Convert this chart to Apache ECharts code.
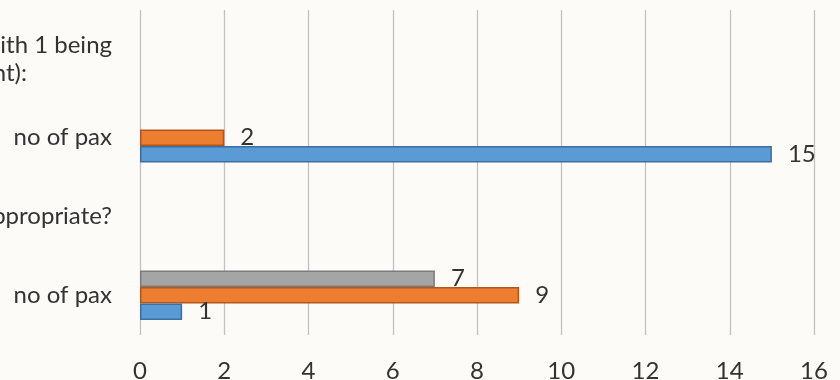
<!DOCTYPE html>
<html>
<head>
<meta charset="utf-8">
<script src="https://cdn.jsdelivr.net/npm/echarts@6/dist/echarts.min.js"></script>
<style>
  html, body { margin: 0; padding: 0; background: #fcfbf8; }
  #chart { width: 840px; height: 380px; }
</style>
</head>
<body>
<div id="chart"></div>
<script>
// categories from bottom to top (category axis runs upwards)
const categories = ['no of pax', 'Q2', 'no of pax', 'Q1']
const questionLabels = {
  Q1: '{a|Please rank the following (with 1 being}\n{b|the most important):}',
  Q2: 'Was the length of the session appropriate?'
}
const seriesNames = ['Series 1', 'Series 2', 'Series 3']
const blueValues = [1, null, 15, null]
const orangeValues = [9, null, 2, null]
const grayValues = [7, null, null, null]
const xTicks = [0, 2, 4, 6, 8, 10, 12, 14, 16]

const chart = echarts.init(document.getElementById('chart'))

const font = 'Lato'
const textColor = '#333333'

const barLabel = {
  show: true,
  position: 'right',
  distance: 16,
  color: textColor,
  fontFamily: font,
  fontSize: 24
}

const makeSeries = (name, data, fill, border) => ({
  name: name,
  type: 'bar',
  xAxisIndex: 0,
  yAxisIndex: 0,
  data: data,
  barWidth: 16.5,
  barGap: '0%',
  itemStyle: { color: fill, borderColor: border, borderWidth: 1.5 },
  label: barLabel,
  emphasis: { disabled: true }
})

const option = {
  backgroundColor: '#fcfbf8',
  animation: false,
  grid: [
    { left: 140, right: 26, top: 19.5, bottom: 45.5, containLabel: false, outerBoundsMode: 'none' },
    // taller grid only used for the vertical grid lines
    { left: 140, right: 26, top: 10, bottom: 45, containLabel: false, outerBoundsMode: 'none' }
  ],
  xAxis: [
    {
      type: 'value',
      gridIndex: 0,
      min: xTicks[0],
      max: xTicks[xTicks.length - 1],
      interval: 2,
      axisLine: { show: false },
      axisTick: { show: false },
      splitLine: { show: false },
      axisLabel: { color: textColor, fontFamily: font, fontSize: 24, margin: 25 }
    },
    {
      type: 'value',
      gridIndex: 1,
      min: xTicks[0],
      max: xTicks[xTicks.length - 1],
      interval: 2,
      axisLine: { show: false },
      axisTick: { show: false },
      axisLabel: { show: false },
      splitLine: { show: true, lineStyle: { color: '#c2c2c2', width: 1.3 } }
    }
  ],
  yAxis: [
    {
      type: 'category',
      gridIndex: 0,
      data: categories,
      axisLine: { show: false },
      axisTick: { show: false },
      axisLabel: {
        color: textColor,
        fontFamily: font,
        fontSize: 24,
        margin: 28,
        lineHeight: 28,
        formatter: (v) => questionLabels[v] || v,
        rich: {
          a: { color: textColor, fontFamily: font, fontSize: 24, lineHeight: 28 },
          b: { color: textColor, fontFamily: font, fontSize: 24, lineHeight: 28, padding: [0, 85, 0, 0] }
        }
      }
    },
    { type: 'value', gridIndex: 1, show: false, min: 0, max: 1 }
  ],
  // series placed top to bottom inside each group: gray, orange, blue
  series: [
    makeSeries(seriesNames[2], grayValues, '#a5a5a5', '#7c7c7c'),
    makeSeries(seriesNames[1], orangeValues, '#ed7d31', '#b1561c'),
    makeSeries(seriesNames[0], blueValues, '#5b9bd5', '#3d6e9f')
  ]
}

chart.setOption(option)
</script>
</body>
</html>
